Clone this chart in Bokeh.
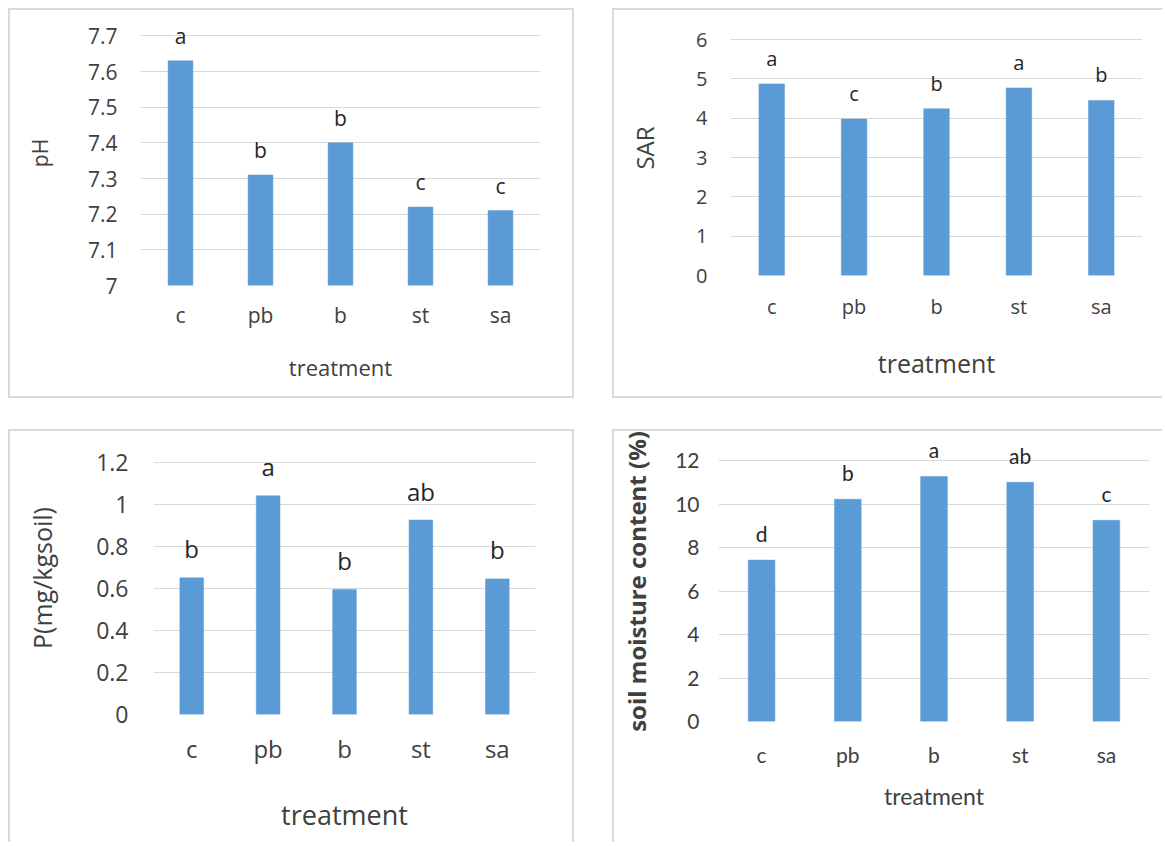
from bokeh.plotting import figure
from bokeh.layouts import column, row
from bokeh.models import (ColumnDataSource, LabelSet, FixedTicker, Range1d,
                          FactorRange, NumeralTickFormatter)
from bokeh.core.properties import value
from bokeh.embed import file_html
from bokeh.resources import INLINE

# ---------------- data ----------------
treatments = ["c", "pb", "b", "st", "sa"]

ph_values = [7.63, 7.31, 7.40, 7.22, 7.21]
ph_letters = ["a", "b", "b", "c", "c"]
ph_ticks = [7.0, 7.1, 7.2, 7.3, 7.4, 7.5, 7.6, 7.7]

sar_values = [4.87, 3.98, 4.24, 4.77, 4.45]
sar_letters = ["a", "c", "b", "a", "b"]
sar_ticks = [0, 1, 2, 3, 4, 5, 6]

p_values = [0.65, 1.04, 0.595, 0.925, 0.645]
p_letters = ["b", "a", "b", "ab", "b"]
p_ticks = [0, 0.2, 0.4, 0.6, 0.8, 1.0, 1.2]

moist_values = [7.42, 10.22, 11.26, 11.0, 9.25]
moist_letters = ["d", "b", "a", "ab", "c"]
moist_ticks = [0, 2, 4, 6, 8, 10, 12]

BAR = "#5B9BD5"
GRID = "#D9D9D9"
TXT = "#404040"
LET = "#262626"
C = "#D9D9D9"


def make_panel(values, letters, ticks, y_title, cfg):
    W, H = cfg["W"], cfg["H"]
    L, R, T, B = cfg["frame"]
    base = ticks[0]
    top_tick_px = cfg["top_tick"]
    ppu = (B - top_tick_px) / (ticks[-1] - base)
    y_end = ticks[-1] + (top_tick_px - T) / ppu

    p = figure(width=W, height=H, x_range=FactorRange(*treatments),
               y_range=Range1d(base, y_end), title=None,
               output_backend="svg", toolbar_location=None,
               min_border_left=L, min_border_right=W - R,
               min_border_top=T, min_border_bottom=H - B)
    p.outline_line_color = None
    p.background_fill_color = "white"
    p.border_fill_color = "white"
    p.styles = {"box-shadow": cfg["shadow"]}

    src = ColumnDataSource(dict(x=treatments, top=values, lab=letters))
    p.vbar(x="x", top="top", bottom=base, width=0.31, source=src,
           fill_color=BAR, line_color=BAR, line_width=0.5)

    font = cfg["font"]
    ls = LabelSet(x="x", y="top", text="lab", source=src, y_offset=cfg["let_off"],
                  text_align="center", text_baseline="middle",
                  text_font=value(font), text_font_size=cfg["let_size"], text_color=LET)
    p.add_layout(ls)

    p.xgrid.grid_line_color = None
    p.ygrid.grid_line_color = GRID
    p.ygrid.grid_line_width = 1
    for ax in (p.xaxis[0], p.yaxis[0]):
        ax.axis_line_color = None
        ax.major_tick_line_color = None
        ax.minor_tick_line_color = None
        ax.major_tick_out = 0
        ax.major_tick_in = 0
        ax.major_label_text_font = font
        ax.major_label_text_color = TXT
        ax.axis_label_text_color = TXT
        ax.axis_label_text_font_style = "normal"
    p.yaxis.ticker = FixedTicker(ticks=ticks)
    p.yaxis.formatter = NumeralTickFormatter(format="0.[0]")
    p.yaxis.major_label_text_font_size = cfg["tick_size"]
    p.yaxis.major_label_standoff = cfg["y_standoff"]
    p.xaxis.major_label_text_font_size = cfg["cat_size"]
    p.xaxis.major_label_standoff = cfg["x_standoff"]

    p.yaxis.axis_label = y_title
    p.yaxis.axis_label_text_font = cfg["ytitle_font"]
    p.yaxis.axis_label_text_font_size = cfg["ytitle_size"]
    p.yaxis.axis_label_text_font_style = cfg.get("ytitle_style", "normal")
    p.yaxis.axis_label_standoff = cfg["ytitle_standoff"]

    p.xaxis.axis_label = "treatment"
    p.xaxis.axis_label_text_font = font
    p.xaxis.axis_label_text_font_size = cfg["xtitle_size"]
    p.xaxis.axis_label_standoff = cfg["xtitle_standoff"]
    return p


cfg1 = dict(W=562, H=386, frame=(130, 530, 10, 275), top_tick=25.4,
            shadow=f"0 0 0 2px {C}",
            font="Open Sans", let_size="21px", let_off=25,
            tick_size="21px", cat_size="21px", y_standoff=23, x_standoff=15,
            ytitle_font="Open Sans", ytitle_size="21px", ytitle_standoff=31,
            xtitle_size="22px", xtitle_standoff=20)
cfg2 = dict(W=550, H=386, frame=(116, 528, 10, 265), top_tick=29,
            shadow=f"-2px -2px 0 0 {C}, -2px 2px 0 0 {C}",
            font="Open Sans", let_size="20px", let_off=25.5,
            tick_size="20px", cat_size="20px", y_standoff=23, x_standoff=17,
            ytitle_font="Open Sans", ytitle_size="24px", ytitle_standoff=32,
            xtitle_size="25px", xtitle_standoff=23)
cfg3 = dict(W=562, H=413, frame=(143, 525, 10, 283), top_tick=30.7,
            shadow=f"-2px -2px 0 0 {C}, 2px -2px 0 0 {C}",
            font="Open Sans", let_size="24px", let_off=29,
            tick_size="23px", cat_size="24px", y_standoff=25, x_standoff=17,
            ytitle_font="Open Sans", ytitle_size="25px", ytitle_standoff=34,
            xtitle_size="27px", xtitle_standoff=28)
cfg4 = dict(W=550, H=413, frame=(104, 535, 10, 290), top_tick=29,
            shadow=f"-2px -2px 0 0 {C}",
            font="Lato", let_size="21px", let_off=27,
            tick_size="21px", cat_size="21px", y_standoff=19, x_standoff=20,
            ytitle_font="Open Sans", ytitle_size="24px", ytitle_style="bold",
            ytitle_standoff=19,
            xtitle_size="23px", xtitle_standoff=12)

p1 = make_panel(ph_values, ph_letters, ph_ticks, "pH", cfg1)
p2 = make_panel(sar_values, sar_letters, sar_ticks, "SAR", cfg2)
p3 = make_panel(p_values, p_letters, p_ticks, "P(mg/kgsoil)", cfg3)
p4 = make_panel(moist_values, moist_letters, moist_ticks, "soil moisture content (%)", cfg4)

# each plot wrapped in its own column so that frames are not aligned across a row
top_row = row(column(p1), column(p2), spacing=42)
bottom_row = row(column(p3), column(p4), spacing=42)
layout = column(top_row, bottom_row, spacing=35, margin=(10, 0, 0, 10))

open("out.html", "w").write(file_html(layout, INLINE))
